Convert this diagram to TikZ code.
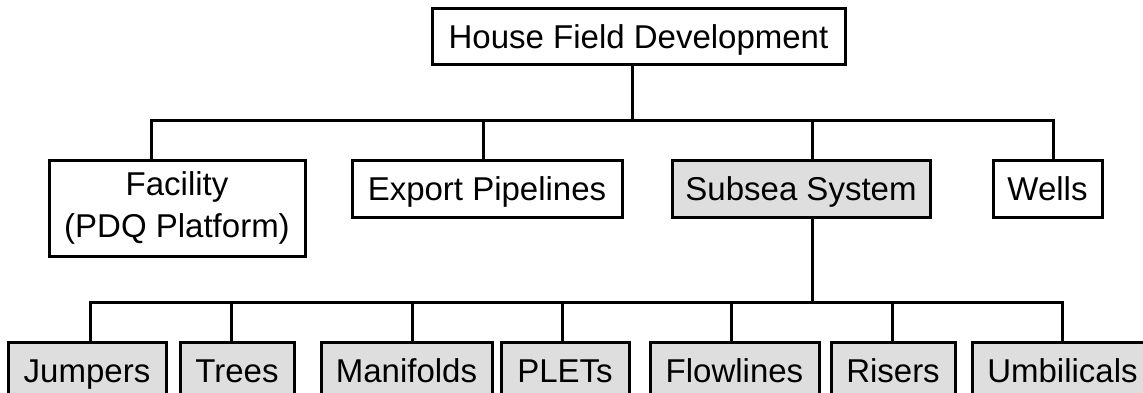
\documentclass[tikz,border=0pt]{standalone}
\usepackage{fontspec}
\setmainfont{Liberation Sans}
\begin{document}
\begin{tikzpicture}[x=1pt,y=-1pt,
  boxbase/.style={draw, line width=3pt, inner sep=0pt, fill=white,
    font=\fontsize{33}{42}\selectfont},
  box/.style={boxbase, text height=24pt, text depth=0pt},
  shaded/.style={box, fill=black!13},
  conn/.style={line width=3pt}]
\useasboundingbox (0,0) rectangle (1143,393);
\clip (0,0) rectangle (1143,393);
% level 1
\node[box, minimum width=413pt, minimum height=56pt] (top) at (638.5,37) {House Field Development};
% level 2
\node[boxbase, align=center, minimum width=256pt, minimum height=96pt] (fac) at (177,208) {Facility\\(PDQ Platform)};
\node[box, minimum width=270pt, minimum height=57pt] (exp) at (487,188.5) {Export Pipelines};
\node[shaded, minimum width=258pt, minimum height=57pt] (sub) at (801,188.5) {Subsea System};
\node[box, minimum width=109pt, minimum height=57pt] (wells) at (1047.5,188.5) {Wells};
% level 3
\node[shaded, minimum width=158pt, minimum height=57pt] (jump) at (87,370.5) {Jumpers};
\node[shaded, minimum width=114pt, minimum height=57pt] (trees) at (237,370.5) {Trees};
\node[shaded, minimum width=171pt, minimum height=57pt] (man) at (406.5,370.5) {Manifolds};
\node[shaded, minimum width=128pt, minimum height=57pt] (plets) at (565,370.5) {PLETs};
\node[shaded, minimum width=169pt, minimum height=57pt] (flow) at (734.5,370.5) {Flowlines};
\node[shaded, minimum width=124pt, minimum height=57pt] (ris) at (893,370.5) {Risers};
\node[shaded, minimum width=181pt, minimum height=57pt] (umb) at (1062.5,370.5) {Umbilicals};
% connectors level 1 -> 2
\draw[conn] ([xshift=-6.5pt]top.south) -- ++(0,54) coordinate (b1);
\draw[conn] ([xshift=-26pt]fac.north) |- (b1);
\draw[conn] ([xshift=5.5pt]wells.north) |- (b1);
\draw[conn] ([xshift=-4pt]exp.north) -- ([xshift=-4pt]exp.north |- b1);
\draw[conn] ([xshift=11pt]sub.north) -- ([xshift=11pt]sub.north |- b1);
% connectors level 2 -> 3
\draw[conn] ([xshift=11pt]sub.south) -- ++(0,84) coordinate (b2);
\draw[conn] ([xshift=3pt]jump.north) |- (b2);
\draw[conn] ([xshift=-0.5pt]umb.north) |- (b2);
\draw[conn] ([xshift=-6pt]trees.north) -- ([xshift=-6pt]trees.north |- b2);
\draw[conn] ([xshift=5.5pt]man.north) -- ([xshift=5.5pt]man.north |- b2);
\draw[conn] ([xshift=-3pt]plets.north) -- ([xshift=-3pt]plets.north |- b2);
\draw[conn] ([xshift=-3.5pt]flow.north) -- ([xshift=-3.5pt]flow.north |- b2);
\draw[conn] ([xshift=-1pt]ris.north) -- ([xshift=-1pt]ris.north |- b2);
\end{tikzpicture}
\end{document}
